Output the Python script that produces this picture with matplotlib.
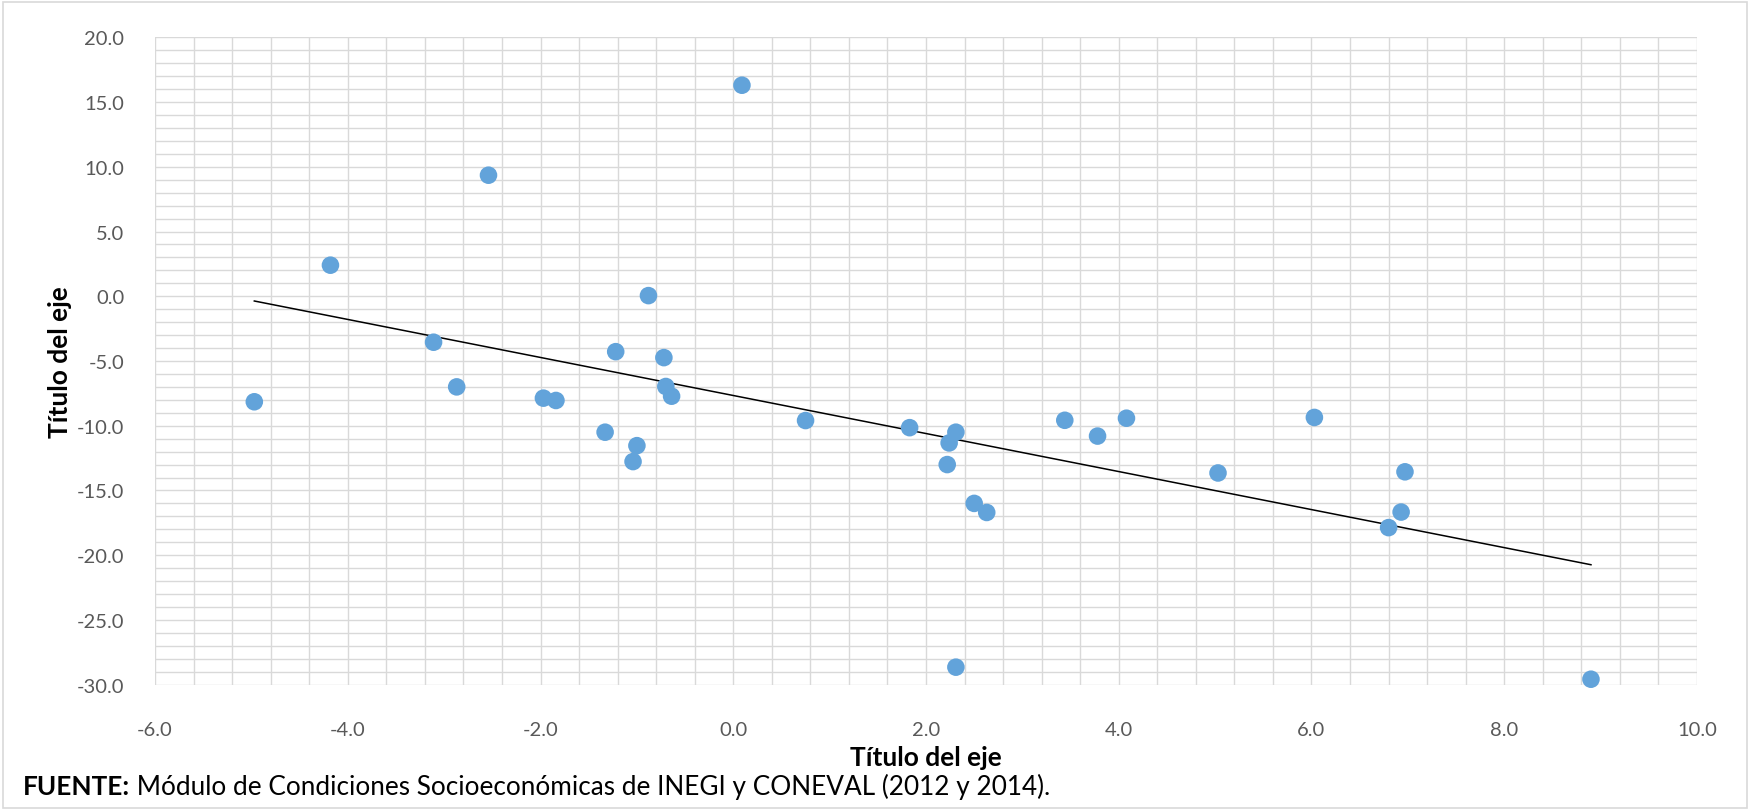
import matplotlib
matplotlib.use('Agg')
from matplotlib import pyplot as plt
from matplotlib.patches import Rectangle
from matplotlib.ticker import MultipleLocator
import numpy as np

# datos
x_vals = [-4.97, -4.18, -3.11, -2.87, -2.54, -1.97, -1.84, -1.33, -1.22, -1.04,
          -1.00, -0.88, -0.72, -0.70, -0.64, 0.09, 0.75, 1.83, 2.22, 2.24,
          2.31, 2.31, 2.50, 2.63, 3.44, 3.78, 4.08, 5.03, 6.03, 6.80,
          6.93, 6.97, 8.90]
y_vals = [-8.15, 2.40, -3.55, -7.00, 9.35, -7.87, -8.05, -10.50, -4.28, -12.77,
          -11.54, 0.05, -4.74, -6.97, -7.72, 16.30, -9.60, -10.15, -13.00, -11.33,
          -10.50, -28.65, -16.00, -16.70, -9.58, -10.80, -9.42, -13.65, -9.36, -17.87,
          -16.67, -13.56, -29.58]
x_ticks = [-6.0, -4.0, -2.0, 0.0, 2.0, 4.0, 6.0, 8.0, 10.0]
y_ticks = [-30.0, -25.0, -20.0, -15.0, -10.0, -5.0, 0.0, 5.0, 10.0, 15.0, 20.0]
x_title = 'Título del eje'
y_title = 'Título del eje'

plt.rcParams['font.family'] = ['Lato', 'DejaVu Sans']

fig = plt.figure(figsize=(17.5, 8.12), dpi=100)
ax = fig.add_axes([0.0886, 0.1556, 0.8811, 0.7972])

x = np.array(x_vals)
y = np.array(y_vals)

# linea de tendencia lineal
m, b = np.polyfit(x, y, 1)
xl = np.array([x.min(), x.max()])
ax.plot(xl, m * xl + b, color='black', lw=1.1, zorder=3)

ax.scatter(x, y, s=160, color='#62A3DA', edgecolors='none', zorder=4, clip_on=False)

ax.set_xlim(-6, 10)
ax.set_ylim(-30, 20)
ax.set_xticks(x_ticks)
ax.set_yticks(y_ticks)
ax.set_xticklabels(['%.1f' % v for v in x_ticks])
ax.set_yticklabels(['%.1f' % v for v in y_ticks])
ax.xaxis.set_minor_locator(MultipleLocator(0.4))
ax.yaxis.set_minor_locator(MultipleLocator(1.0))
ax.grid(True, which='both', color='#d9d9d9', lw=1.0, zorder=0)
ax.set_axisbelow(True)
for s in ax.spines.values():
    s.set_visible(False)
ax.tick_params(which='both', length=0)
ax.tick_params(axis='x', pad=26, labelsize=14.5, labelcolor='#595959')
ax.tick_params(axis='y', pad=22, labelsize=14.5, labelcolor='#595959')

ax.set_xlabel(x_title, fontsize=19, fontweight='bold')
ax.set_ylabel(y_title, fontsize=19, fontweight='bold')
ax.xaxis.set_label_coords(0.5, -0.1118)
ax.xaxis.label.set_va('center')
ax.yaxis.set_label_coords(-0.0616, 0.5)
ax.yaxis.label.set_va('center')

t = fig.text(23 / 1750, 1 - 787 / 812, 'FUENTE:', fontsize=18.8, fontweight='bold',
             va='center', ha='left')
ax.annotate(' Módulo de Condiciones Socioeconómicas de INEGI y CONEVAL (2012 y 2014).',
            xy=(1, 0.5), xycoords=t, va='center', ha='left', fontsize=18.8,
            annotation_clip=False)

fig.patches.append(Rectangle((0.0015, 0.004), 0.997, 0.992, transform=fig.transFigure,
                             fill=False, edgecolor='#d9d9d9', lw=1.2))

fig.savefig('out.png', dpi=100)
